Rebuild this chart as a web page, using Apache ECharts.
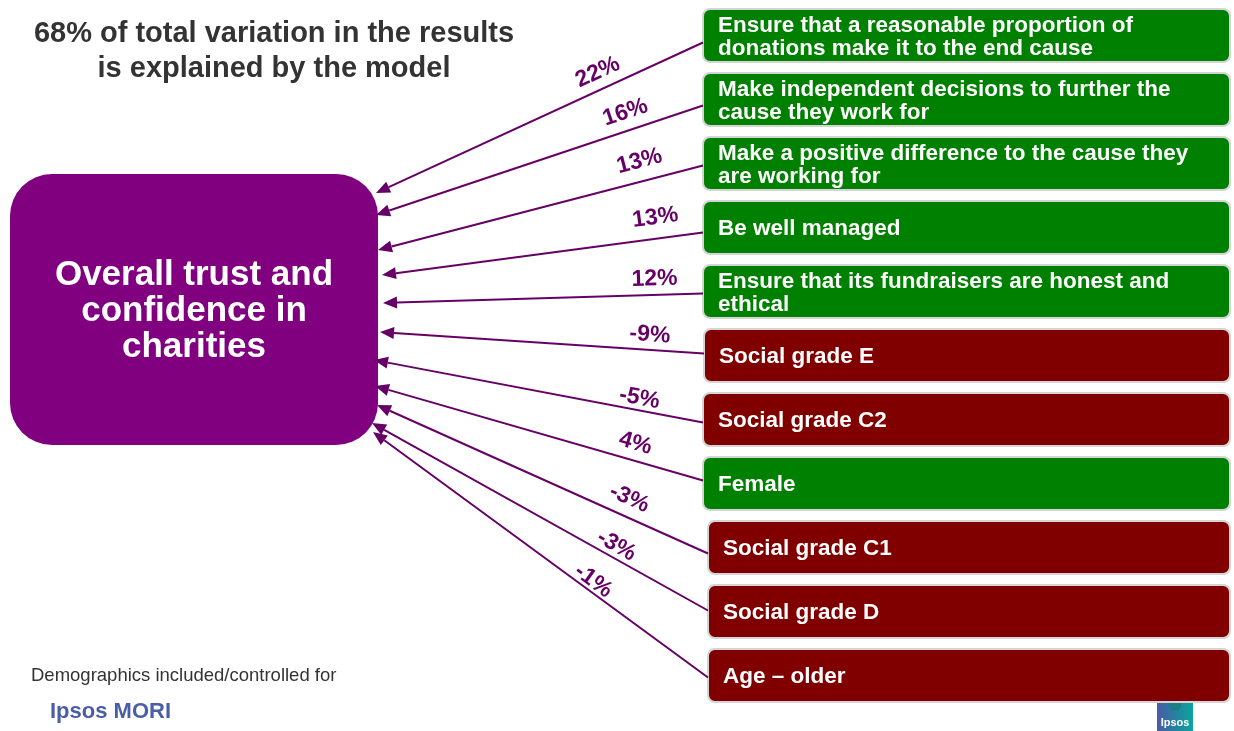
<!DOCTYPE html>
<html>
<head>
<meta charset="utf-8">
<script src="https://cdn.jsdelivr.net/npm/echarts@6/dist/echarts.min.js"></script>
<style>
  html, body { margin: 0; padding: 0; background: #fff; }
  #chart { width: 1234px; height: 731px; }
</style>
</head>
<body>
<div id="chart"></div>
<script>
// drivers of overall trust, top to bottom as on the slide
const factors = [
  'Ensure that a reasonable proportion of\ndonations make it to the end cause',
  'Make independent decisions to further the\ncause they work for',
  'Make a positive difference to the cause they\nare working for',
  'Be well managed',
  'Ensure that its fundraisers are honest and\nethical',
  'Social grade E',
  'Social grade C2',
  'Female',
  'Social grade C1',
  'Social grade D',
  'Age \u2013 older'
]
// share of explained variation (%), negative = lowers trust
const weights = [22, 16, 13, 13, 12, -9, -5, 4, -3, -3, -1]

const titleText = '68% of total variation in the results\nis explained by the model'
const outcomeText = 'Overall trust and\nconfidence in\ncharities'
const footNote = 'Demographics included/controlled for'

// layout (same units as the hidden axes: 1 unit = 1px)
const rowTop = 35.5, rowStep = 64, boxH = 53, boxRight = 1230
const boxLeft = [703, 703, 703, 703, 703, 704, 703, 703, 708, 708, 708]
const startOffset = [7, 6, 2, 5, 2, -2, 3, -3, 6, -1, 2]
const tipX = [376, 376, 378, 382, 383, 380, 374, 375, 377, 372, 373]
const tipY = [193, 215, 250, 275, 303, 332, 360, 386, 405, 423, 432]
// where each % label sits: fraction of the way from box to tip, and distance above the line
const labelT = [0.30, 0.22, 0.18, 0.14, 0.15, 0.17, 0.20, 0.22, 0.26, 0.29, 0.36]
const labelOff = [17, 18, 20, 21, 16, 15, 12, 17, 18, 12, 10]

const FONT = 'Liberation Sans'
const GREEN = '#008000', RED = '#800000', PURPLE = '#800080', LINE = '#660066'

const chart = echarts.init(document.getElementById('chart'))

function renderFactor(params, api) {
  const i = api.value(0)
  const w = api.value(1)
  const cy = rowTop + rowStep * i
  const tl = api.coord([boxLeft[i], cy - boxH / 2])
  const br = api.coord([boxRight, cy + boxH / 2])
  const start = api.coord([boxLeft[i], cy + startOffset[i]])
  const tip = api.coord([tipX[i], tipY[i]])

  const dx = tip[0] - start[0], dy = tip[1] - start[1]
  const len = Math.sqrt(dx * dx + dy * dy)
  const ux = dx / len, uy = dy / len
  const headL = 14, headW = 6
  const bx = tip[0] - ux * headL, by = tip[1] - uy * headL

  const ang = Math.atan2(tip[1] - start[1], start[0] - tip[0])
  const px = start[0] + labelT[i] * dx, py = start[1] + labelT[i] * dy
  const off = labelOff[i]

  return {
    type: 'group',
    children: [
      {
        type: 'rect',
        shape: { x: tl[0], y: tl[1], width: br[0] - tl[0], height: br[1] - tl[1], r: 7 },
        style: { fill: w > 0 ? GREEN : RED, stroke: '#d4d4d4', lineWidth: 2 }
      },
      {
        type: 'text',
        x: tl[0] + 15,
        y: (tl[1] + br[1]) / 2 + 1.5,
        style: {
          text: factors[i], fill: '#fff',
          fontFamily: FONT, fontSize: 22.5, fontWeight: 'bold',
          align: 'left', verticalAlign: 'middle', lineHeight: 23
        }
      },
      {
        type: 'line',
        shape: { x1: start[0], y1: start[1], x2: bx, y2: by },
        style: { stroke: LINE, lineWidth: 2 }
      },
      {
        type: 'polygon',
        shape: { points: [tip, [bx - uy * headW, by + ux * headW], [bx + uy * headW, by - ux * headW]] },
        style: { fill: LINE }
      },
      {
        type: 'text',
        x: px - Math.sin(ang) * off,
        y: py - Math.cos(ang) * off,
        rotation: ang,
        style: {
          text: w + '%', fill: LINE,
          fontFamily: FONT, fontSize: 23, fontWeight: 'bold',
          align: 'center', verticalAlign: 'middle'
        }
      }
    ]
  }
}

const option = {
  animation: false,
  backgroundColor: '#fff',
  grid: { left: 0, right: 0, top: 0, bottom: 0 },
  xAxis: { type: 'value', min: 0, max: 1234, show: false },
  yAxis: { type: 'value', min: 0, max: 731, inverse: true, show: false },
  graphic: [
    {
      type: 'text', x: 274, y: 16,
      style: {
        text: titleText, fill: '#333', fontFamily: FONT, fontSize: 29, fontWeight: 'bold',
        align: 'center', verticalAlign: 'top', lineHeight: 35
      }
    },
    {
      type: 'rect',
      shape: { x: 10, y: 174, width: 368, height: 271, r: 42 },
      style: { fill: PURPLE }
    },
    {
      type: 'text', x: 194, y: 311,
      style: {
        text: outcomeText, fill: '#fff', fontFamily: FONT, fontSize: 35, fontWeight: 'bold',
        align: 'center', verticalAlign: 'middle', lineHeight: 36
      }
    },
    {
      type: 'text', x: 31, y: 676,
      style: {
        text: footNote, fill: '#333', fontFamily: FONT, fontSize: 18.5,
        align: 'left', verticalAlign: 'middle'
      }
    },
    {
      type: 'text', x: 50, y: 712,
      style: {
        text: 'Ipsos MORI', fill: '#4a5ea8', fontFamily: FONT, fontSize: 22, fontWeight: 'bold',
        align: 'left', verticalAlign: 'middle'
      }
    },
    {
      type: 'group', x: 1157, y: 693,
      children: [
        {
          type: 'rect', shape: { x: 0, y: 0, width: 36, height: 38 },
          style: {
            fill: new echarts.graphic.LinearGradient(0, 0, 1, 0, [
              { offset: 0, color: '#4b5aa6' }, { offset: 1, color: '#08a59b' }
            ])
          }
        },
        { type: 'circle', shape: { cx: 18, cy: 12, r: 6 }, style: { fill: '#1a7f86' } },
        {
          type: 'text', x: 18, y: 30,
          style: {
            text: 'Ipsos', fill: '#fff', fontFamily: FONT, fontSize: 11, fontWeight: 'bold',
            align: 'center', verticalAlign: 'middle'
          }
        }
      ]
    }
  ],
  series: [{
    type: 'custom',
    coordinateSystem: 'cartesian2d',
    renderItem: renderFactor,
    data: weights.map((w, i) => ({ name: factors[i], value: [i, w] }))
  }]
}
chart.setOption(option)
</script>
</body>
</html>
